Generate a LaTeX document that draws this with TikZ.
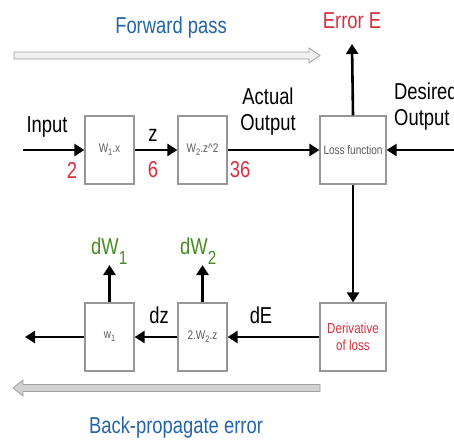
\documentclass[tikz,border=0pt]{standalone}
\usepackage{fontspec}
\setmainfont{Liberation Sans}[FakeStretch=0.8]
\usetikzlibrary{arrows.meta}
\definecolor{cred}{RGB}{214,48,62}
\definecolor{cblue}{RGB}{36,100,168}
\definecolor{cgreen}{RGB}{70,140,30}
\definecolor{cbox}{RGB}{150,150,150}
\definecolor{ctxt}{RGB}{90,90,90}
\newcommand{\smsub}[1]{\raisebox{-0.45ex}{\scalebox{0.75}{#1}}}
\newcommand{\bigsub}[1]{\raisebox{-10pt}{\fontsize{19}{19}\selectfont #1}}
\tikzset{
  blk/.style={draw=cbox, line width=1.2pt, fill=white, minimum width=49pt, minimum height=68pt, inner sep=0pt, text=ctxt, font=\fontsize{12.5}{14}\selectfont},
  wideblk/.style={blk, minimum width=66pt},
  flow/.style={line width=2.6pt, -{Triangle[length=10pt,width=12pt]}},
  big/.style={font=\fontsize{23}{26}\selectfont},
  num/.style={big, text=cred},
  bigarrow/.style={draw=gray!75, line width=0.8pt, line join=miter},
}
\begin{document}
\begin{tikzpicture}[x=1pt, y=-1pt]
\useasboundingbox (0,0) rectangle (454,442);
\clip (0,0) rectangle (454,442);
% boxes
\node[blk] (b1) at (109.5,150) {W\smsub{1}.x};
\node[blk] (b2) at (202.5,150) {W\smsub{2}.z\^{}2};
\node[wideblk] (loss) at (353,150) {Loss function};
\node[blk] (c1) at (109.5,337) {w\smsub{1}};
\node[blk] (c2) at (202.5,337) {2.W\smsub{2}.z};
\node[wideblk, text=cred, align=center, font=\fontsize{14.5}{17}\selectfont] (der) at (353,337) {Derivative\\of loss};
% free ends
\coordinate (in) at (23,150);
\coordinate (des) at (470,150);
\coordinate (err) at (352,44);
\coordinate (out) at (25,337);
\coordinate (g1) at (109.5,265);
\coordinate (g2) at (202.5,265);
% connectors
\draw[flow] (in) -- (b1);
\draw[flow] (b1) -- (b2);
\draw[flow] (b2) -- (loss);
\draw[flow] (des) -- (loss);
\draw[flow] (loss.north) -- (err);
\draw[flow] (loss.south) -- (der.north);
\draw[flow] (der) -- (c2);
\draw[flow] (c2) -- (c1);
\draw[flow] (c1) -- (out);
\draw[flow] (c1.north) -- (g1);
\draw[flow] (c2.north) -- (g2);
% big arrows
\draw[bigarrow, fill=gray!12] (14,52) -- (309,52) -- (309,48) -- (320,55.5) -- (309,63) -- (309,59) -- (14,59) -- cycle;
\draw[bigarrow, fill=gray!35] (320,384.5) -- (23,384.5) -- (23,380) -- (13,388) -- (23,396) -- (23,391.5) -- (320,391.5) -- cycle;
% labels
\node[big, text=cblue] (fp) at (171,28) {Forward pass};
\node[big, text=cblue] (bp) at (176,428) {Back-propagate error};
\node[big, text=cred] (el) at (352,21) {Error E};
\node[big] (il) at (47,127) {Input};
\node[num] (n2) at (72,170) {2};
\node[big] (zl) at (153,135) {z};
\node[num] (n6) at (153,170) {6};
\node[num] (n36) at (240,170) {36};
\node[big, align=center, inner sep=0pt] (ao) at (268,112) {Actual\\Output};
\node[big, align=left, anchor=west, inner sep=0pt] (do) at (394,107) {Desired\\Output};
\node[big, text=cgreen, anchor=base west, inner sep=0pt] (dw1) at (91,254) {dW\bigsub{1}};
\node[big, text=cgreen, anchor=base west, inner sep=0pt] (dw2) at (180,254) {dW\bigsub{2}};
\node[big] (dzl) at (159,315) {dz};
\node[big] (del) at (261,315) {dE};
\end{tikzpicture}
\end{document}
